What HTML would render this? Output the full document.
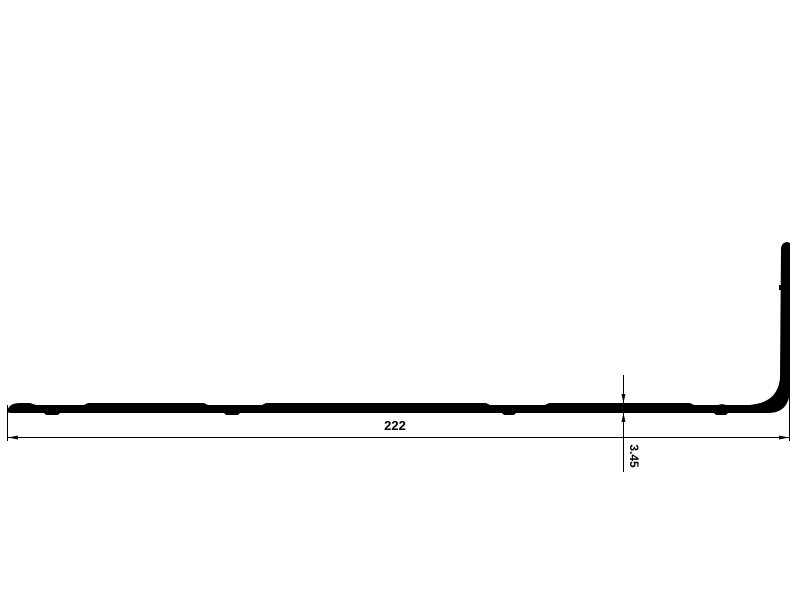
<!DOCTYPE html>
<html><head><meta charset="utf-8"><style>html,body{margin:0;padding:0;background:#fff}svg{display:block}</style></head>
<body>
<svg width="800" height="600" viewBox="0 0 800 600">
<g fill="#000">
<path d="M7,412 C8,406 12,403 20,403 L30,403 L36,405 L84,405 L88,403 L204,403 L208,405 L262,405 L266,403 L486,403 L490,405 L545,405 L549,403 L690,403 L694,405 L718,405 L722,404 L726,405 L750,405 L756,404 Q778,400 780,378 L781,248 Q782,242 788,242 L790,243 L790,390 Q789,413 768,413 L728,413 L726,415 L716,415 L714,413 L516,413 L514,415 L504,415 L502,413 L240,413 L238,415 L226,415 L224,413 L60,413 L58,415 L46,415 L44,413 L10,413 Z"/>
<rect x="779" y="285" width="4" height="5"/>
</g>
<g stroke="#000" stroke-width="1" fill="none">
<line x1="7.5" y1="405" x2="7.5" y2="441"/>
<line x1="789.5" y1="380" x2="789.5" y2="441"/>
<line x1="8" y1="437.5" x2="789" y2="437.5"/>
<path d="M8,437.5 L18,435.5 L18,439.5 Z M789,437.5 L779,435.5 L779,439.5 Z" fill="#000" stroke="none"/>
</g>
<text x="395" y="430" font-family="Liberation Sans, sans-serif" font-size="13" font-weight="bold" text-anchor="middle" transform="scale(1,1)">222</text>
<g stroke="#000" stroke-width="1">
<line x1="623.5" y1="375" x2="623.5" y2="472"/>
<path d="M623.5,403 L621.5,394 L625.5,394 Z M623.5,413 L621.5,422 L625.5,422 Z" fill="#000" stroke="none"/>
</g>
<text x="0" y="0" font-family="Liberation Sans, sans-serif" font-size="12" font-weight="bold" text-anchor="middle" transform="translate(630,456) rotate(90)">3.45</text>
</svg>
</body></html>
